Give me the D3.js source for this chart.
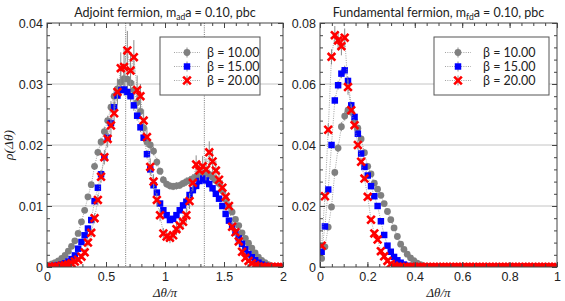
<!DOCTYPE html>
<html>
<head>
<meta charset="utf-8">
<script src="https://cdn.jsdelivr.net/npm/d3@7"></script>
<style>
body{margin:0;background:#fff;}
</style>
</head>
<body>
<div class="content"></div>
<script>
// ---- data ----
// bin centres, left panel (dtheta/pi, 0..2)
var adjX = [0.014,0.042,0.069,0.097,0.125,0.153,0.181,0.208,0.236,0.264,
  0.292,0.319,0.347,0.375,0.403,0.431,0.458,0.486,0.514,0.542,
  0.569,0.597,0.625,0.653,0.681,0.708,0.736,0.764,0.792,0.819,
  0.847,0.875,0.903,0.931,0.958,0.986,1.014,1.042,1.069,1.097,
  1.125,1.153,1.181,1.208,1.236,1.264,1.292,1.319,1.347,1.375,
  1.403,1.431,1.458,1.486,1.514,1.542,1.569,1.597,1.625,1.653,
  1.681,1.708,1.736,1.764,1.792,1.819,1.847,1.875,1.903,1.931,
  1.958,1.986];
var adjB10 = [0.0003,0.0005,0.0007,0.0010,0.0014,0.0019,0.0026,0.0034,0.0043,0.0055,
  0.0074,0.0093,0.0115,0.0135,0.0165,0.0188,0.0205,0.0222,0.0240,0.0262,
  0.0280,0.0292,0.0303,0.0309,0.0308,0.0302,0.0290,0.0270,0.0255,0.0228,
  0.0205,0.0200,0.0190,0.0172,0.0157,0.0143,0.0136,0.0133,0.0132,0.0133,
  0.0134,0.0137,0.0140,0.0142,0.0145,0.0148,0.0150,0.0153,0.0155,0.0152,
  0.0147,0.0142,0.0137,0.0125,0.0111,0.0100,0.0090,0.0078,0.0068,0.0056,
  0.0047,0.0039,0.0031,0.0023,0.0016,0.0011,0.0007,0.0004,0.0002,0.0001,
  0.0001,0.0000];
var adjB15 = [0.0001,0.0001,0.0002,0.0003,0.0004,0.0006,0.0009,0.0013,0.0019,0.0030,
  0.0041,0.0052,0.0063,0.0077,0.0108,0.0130,0.0152,0.0180,0.0212,0.0236,
  0.0262,0.0281,0.0290,0.0291,0.0287,0.0280,0.0265,0.0248,0.0229,0.0212,
  0.0185,0.0160,0.0134,0.0122,0.0104,0.0093,0.0085,0.0077,0.0079,0.0085,
  0.0093,0.0101,0.0107,0.0118,0.0126,0.0133,0.0141,0.0145,0.0142,0.0136,
  0.0129,0.0120,0.0112,0.0100,0.0087,0.0076,0.0066,0.0057,0.0047,0.0038,
  0.0029,0.0021,0.0016,0.0011,0.0007,0.0004,0.0002,0.0001,0.0001,0.0000,
  0.0000,0.0000];
var adjB20 = [0.0000,0.0000,0.0001,0.0001,0.0002,0.0003,0.0004,0.0006,0.0009,0.0012,
  0.0017,0.0024,0.0040,0.0056,0.0080,0.0110,0.0148,0.0180,0.0210,0.0232,
  0.0252,0.0287,0.0326,0.0328,0.0355,0.0322,0.0344,0.0290,0.0280,0.0240,
  0.0213,0.0164,0.0140,0.0110,0.0085,0.0055,0.0050,0.0048,0.0052,0.0062,
  0.0068,0.0074,0.0085,0.0108,0.0138,0.0168,0.0158,0.0165,0.0160,0.0188,
  0.0173,0.0158,0.0143,0.0130,0.0115,0.0100,0.0066,0.0057,0.0042,0.0025,
  0.0015,0.0010,0.0006,0.0003,0.0001,0.0000,0.0000,0.0000,0.0000,0.0000,
  0.0000,0.0000];
var adjErr10 = [0.0001,0.0001,0.0001,0.0001,0.0002,0.0002,0.0002,0.0003,0.0003,0.0003,
  0.0004,0.0004,0.0005,0.0005,0.0006,0.0006,0.0007,0.0008,0.0008,0.0010,
  0.0012,0.0015,0.0018,0.0022,0.0022,0.0018,0.0015,0.0012,0.0010,0.0009,
  0.0008,0.0008,0.0007,0.0007,0.0006,0.0006,0.0006,0.0006,0.0006,0.0006,
  0.0006,0.0006,0.0007,0.0007,0.0007,0.0008,0.0008,0.0009,0.0009,0.0008,
  0.0008,0.0007,0.0006,0.0006,0.0005,0.0005,0.0004,0.0004,0.0003,0.0003,
  0.0003,0.0002,0.0002,0.0002,0.0001,0.0001];
var adjErr15 = [0.0001,0.0001,0.0001,0.0001,0.0001,0.0002,0.0002,0.0002,0.0003,0.0003,
  0.0004,0.0004,0.0005,0.0005,0.0006,0.0006,0.0007,0.0007,0.0008,0.0008,
  0.0009,0.0010,0.0010,0.0010,0.0010,0.0009,0.0009,0.0008,0.0008,0.0007,
  0.0007,0.0006,0.0006,0.0005,0.0005,0.0005,0.0005,0.0005,0.0005,0.0005,
  0.0005,0.0006,0.0006,0.0006,0.0006,0.0007,0.0007,0.0007,0.0007,0.0006,
  0.0006,0.0005,0.0005,0.0004,0.0004,0.0003,0.0003,0.0003,0.0002,0.0002,
  0.0002,0.0001];
var adjErr20 = [0.0000,0.0000,0.0001,0.0001,0.0001,0.0002,0.0002,0.0002,0.0003,0.0003,
  0.0004,0.0005,0.0006,0.0007,0.0008,0.0009,0.0010,0.0012,0.0014,0.0016,
  0.0018,0.0022,0.0026,0.0030,0.0032,0.0030,0.0028,0.0024,0.0020,0.0018,
  0.0016,0.0014,0.0012,0.0011,0.0010,0.0009,0.0009,0.0009,0.0009,0.0010,
  0.0010,0.0011,0.0012,0.0013,0.0014,0.0015,0.0016,0.0017,0.0018,0.0018,
  0.0017,0.0016,0.0014,0.0012,0.0011,0.0010,0.0008,0.0007,0.0005,0.0004,
  0.0003,0.0002,0.0002,0.0001,0.0001];

// bin centres, right panel (dtheta/pi, 0..1)
var fundX = [0.0069,0.0208,0.0347,0.0486,0.0625,0.0764,0.0903,0.1042,0.1181,0.1319,
  0.1458,0.1597,0.1736,0.1875,0.2014,0.2153,0.2292,0.2431,0.2569,0.2708,
  0.2847,0.2986,0.3125,0.3264,0.3403,0.3542,0.3681,0.3819,0.3958,0.4097,
  0.4236,0.4375,0.4514,0.4653,0.4792,0.4931,0.5069,0.5208,0.5347,0.5486,
  0.5625,0.5764,0.5903,0.6042,0.6181,0.6319,0.6458,0.6597,0.6736,0.6875,
  0.7014,0.7153,0.7292,0.7431,0.7569,0.7708,0.7847,0.7986,0.8125,0.8264,
  0.8403,0.8542,0.8681,0.8819,0.8958,0.9097,0.9236,0.9375,0.9514,0.9653,
  0.9792,0.9931];
var fundB10 = [0.0028,0.0066,0.0131,0.0197,0.0310,0.0390,0.0460,0.0495,0.0514,0.0508,
  0.0478,0.0455,0.0420,0.0375,0.0330,0.0305,0.0275,0.0255,0.0235,0.0208,
  0.0182,0.0155,0.0128,0.0100,0.0075,0.0058,0.0042,0.0030,0.0021,0.0013,
  0.0008,0.0004,0.0002,0.0001,0,0,0,0,0,0,
  0,0,0,0,0,0,0,0,0,0,
  0,0,0,0,0,0,0,0,0,0,
  0,0,0,0,0,0,0,0,0,0,
  0,0];
var fundB15 = [0.0050,0.0133,0.0254,0.0400,0.0546,0.0596,0.0634,0.0645,0.0610,0.0530,
  0.0492,0.0437,0.0372,0.0328,0.0300,0.0265,0.0232,0.0200,0.0150,0.0105,
  0.0070,0.0050,0.0033,0.0022,0.0014,0.0008,0.0004,0.0002,0.0001,0,
  0,0,0,0,0,0,0,0,0,0,
  0,0,0,0,0,0,0,0,0,0,
  0,0,0,0,0,0,0,0,0,0,
  0,0,0,0,0,0,0,0,0,0,
  0,0];
var fundB20 = [0.0070,0.0232,0.0450,0.0689,0.0760,0.0743,0.0724,0.0752,0.0590,0.0514,
  0.0465,0.0400,0.0345,0.0290,0.0230,0.0155,0.0110,0.0090,0.0052,0.0035,
  0.0020,0.0010,0.0004,0.0001,0,0,0,0,0,0,
  0,0,0,0,0,0,0,0,0,0,
  0,0,0,0,0,0,0,0,0,0,
  0,0,0,0,0,0,0,0,0,0,
  0,0,0,0,0,0,0,0,0,0,
  0,0];
var fundErr10 = [0.0003,0.0005,0.0008,0.0010,0.0012,0.0014,0.0015,0.0015,0.0015,0.0014,
  0.0013,0.0012,0.0011,0.0010,0.0009,0.0008,0.0008,0.0007,0.0006,0.0006,
  0.0005,0.0005,0.0004,0.0004,0.0003,0.0003,0.0002,0.0002,0.0001,0.0001];
var fundErr15 = [0.0005,0.0008,0.0010,0.0012,0.0013,0.0014,0.0015,0.0015,0.0014,0.0012,
  0.0010,0.0009,0.0008,0.0007,0.0006,0.0005,0.0004,0.0003,0.0003,0.0002,
  0.0002,0.0001];
var fundErr20 = [0.0008,0.0015,0.0020,0.0025,0.0030,0.0030,0.0030,0.0030,0.0025,0.0020,
  0.0018,0.0015,0.0012,0.0010,0.0009,0.0008,0.0006,0.0005,0.0004,0.0003,
  0.0002,0.0001];

var betaLabels = ["\u03b2 = 10.00", "\u03b2 = 15.00", "\u03b2 = 20.00"];
var adjXTicks = [0, 0.5, 1, 1.5, 2];
var adjYTicks = [0, 0.01, 0.02, 0.03, 0.04];
var adjGuides = [0.6667, 1.3333];
var fundXTicks = [0, 0.2, 0.4, 0.6, 0.8, 1];
var fundYTicks = [0, 0.02, 0.04, 0.06, 0.08];

// ---- drawing ----
var width = 565, height = 301;
var svg = d3.select(".content").append("svg").attr("width", width).attr("height", height);
var defs = svg.append("defs");

var serif = "'Liberation Serif', 'DejaVu Serif', serif";
var sans = "Lato, 'Open Sans', sans-serif";
var markColor = ["#808080", "#0000ff", "#ff0000"];

function drawMark(sel, k) {
  if (k == 0) {
    sel.append("path").attr("d", d3.symbol().type(d3.symbolCircle).size(36)()).attr("fill", markColor[0]);
  } else if (k == 1) {
    sel.append("path").attr("d", d3.symbol().type(d3.symbolSquare).size(42)()).attr("fill", markColor[1]);
  } else {
    sel.append("path").attr("d", d3.symbol().type(d3.symbolX).size(40)()).attr("stroke", markColor[2]).attr("stroke-width", 2.6).attr("fill", "none");
    sel.append("path").attr("d", d3.symbol().type(d3.symbolSquare).size(10)()).attr("fill", markColor[2]);
  }
}

function panel(cfg) {
  var x = d3.scaleLinear().domain(cfg.xDomain).range([cfg.left, cfg.right]);
  var y = d3.scaleLinear().domain(cfg.yDomain).range([cfg.bottom, cfg.top]);
  var g = svg.append("g");

  defs.append("clipPath").attr("id", cfg.id).append("rect")
    .attr("x", cfg.left).attr("y", cfg.top)
    .attr("width", cfg.right - cfg.left).attr("height", cfg.bottom - cfg.top);

  // grid lines
  g.append("g").selectAll("line").data(cfg.yTicks.slice(1, -1)).join("line")
    .attr("x1", cfg.left).attr("x2", cfg.right)
    .attr("y1", function(d){ return y(d); }).attr("y2", function(d){ return y(d); })
    .attr("stroke", "#c4c4c4").attr("stroke-width", 1);
  g.append("g").selectAll("line").data(cfg.guides || []).join("line")
    .attr("x1", function(d){ return x(d); }).attr("x2", function(d){ return x(d); })
    .attr("y1", cfg.top).attr("y2", cfg.bottom)
    .attr("stroke", "#555").attr("stroke-width", 0.8).attr("stroke-dasharray", "1,1.2");

  // series
  var plot = g.append("g").attr("clip-path", "url(#" + cfg.id + ")");
  var line = d3.line().x(function(d){ return x(d[0]); }).y(function(d){ return y(d[1]); });
  cfg.series.forEach(function(s, k) {
    var pts = s.values.map(function(v, i){ return [cfg.xs[i], v, s.err[i] || 0]; });
    plot.append("path").datum(pts).attr("d", line)
      .attr("fill", "none").attr("stroke", "#8c8c8c").attr("stroke-width", 0.8)
      .attr("stroke-dasharray", "1,1.3");
    plot.append("g").selectAll("line").data(pts.filter(function(d){ return d[2] > 0; })).join("line")
      .attr("x1", function(d){ return x(d[0]); }).attr("x2", function(d){ return x(d[0]); })
      .attr("y1", function(d){ return y(d[1] - d[2]); }).attr("y2", function(d){ return y(d[1] + d[2]); })
      .attr("stroke", "#8c8c8c").attr("stroke-width", 1);
    plot.append("g").selectAll("g").data(pts).join("g")
      .attr("transform", function(d){ return "translate(" + x(d[0]) + "," + y(d[1]) + ")"; })
      .each(function(){ drawMark(d3.select(this), k); });
  });

  // axes (ticks inside, on all four sides)
  var fmtY = function(d){ return d == 0 ? "0" : d3.format(".2f")(d); };
  var fmtX = function(d){ return d == 0 ? "0" : d3.format("~g")(d); };
  var axG = g.append("g").attr("font-family", serif);
  axG.append("g").attr("transform", "translate(0," + cfg.bottom + ")")
    .call(d3.axisBottom(x).tickValues(cfg.xMinor).tickSize(-3).tickFormat(""));
  axG.append("g").attr("transform", "translate(0," + cfg.bottom + ")")
    .call(d3.axisBottom(x).tickValues(cfg.xTicks).tickSize(-5).tickPadding(5).tickFormat(fmtX));
  axG.append("g").attr("transform", "translate(0," + cfg.top + ")")
    .call(d3.axisTop(x).tickValues(cfg.xMinor).tickSize(-3).tickFormat(""));
  axG.append("g").attr("transform", "translate(0," + cfg.top + ")")
    .call(d3.axisTop(x).tickValues(cfg.xTicks).tickSize(-5).tickFormat(""));
  axG.append("g").attr("transform", "translate(" + cfg.left + ",0)")
    .call(d3.axisLeft(y).tickValues(cfg.yMinor).tickSize(-3).tickFormat(""));
  axG.append("g").attr("transform", "translate(" + cfg.left + ",0)")
    .call(d3.axisLeft(y).tickValues(cfg.yTicks).tickSize(-5).tickPadding(4).tickFormat(fmtY));
  axG.append("g").attr("transform", "translate(" + cfg.right + ",0)")
    .call(d3.axisRight(y).tickValues(cfg.yMinor).tickSize(-3).tickFormat(""));
  axG.append("g").attr("transform", "translate(" + cfg.right + ",0)")
    .call(d3.axisRight(y).tickValues(cfg.yTicks).tickSize(-5).tickFormat(""));
  axG.selectAll(".domain").remove();
  axG.selectAll(".tick line").attr("stroke", "#444");
  axG.selectAll(".tick text").attr("font-size", 12.5).attr("fill", "#222");

  g.append("rect").attr("x", cfg.left).attr("y", cfg.top)
    .attr("width", cfg.right - cfg.left).attr("height", cfg.bottom - cfg.top)
    .attr("fill", "none").attr("stroke", "#444").attr("stroke-width", 1);

  // title
  var t = g.append("text").attr("x", (cfg.left + cfg.right) / 2).attr("y", 17)
    .attr("text-anchor", "middle").attr("font-family", sans).attr("font-size", 12.5).attr("fill", "#222");
  t.append("tspan").text(cfg.title[0]);
  t.append("tspan").attr("font-size", 8.5).attr("dy", 2.5).text(cfg.title[1]);
  t.append("tspan").attr("dy", -2.5).text(cfg.title[2]);

  // x label
  g.append("text").attr("x", (cfg.left + cfg.right) / 2).attr("y", 297)
    .attr("text-anchor", "middle").attr("font-family", serif).attr("font-style", "italic")
    .attr("font-size", 13).attr("fill", "#222").text("\u0394\u03b8/\u03c0");

  // legend
  var L = cfg.legend;
  var lg = g.append("g");
  lg.append("rect").attr("x", L.x).attr("y", L.y).attr("width", L.w).attr("height", L.h)
    .attr("fill", "#fff").attr("stroke", "#555").attr("stroke-width", 1);
  betaLabels.forEach(function(lab, k) {
    var ry = L.y + 15.5 + k * 14;
    var mx = L.x + L.mx;
    lg.append("line").attr("x1", mx - 13).attr("x2", mx + 13).attr("y1", ry).attr("y2", ry)
      .attr("stroke", "#8c8c8c").attr("stroke-width", 0.8).attr("stroke-dasharray", "1,1.3");
    lg.append("line").attr("x1", mx).attr("x2", mx).attr("y1", ry - 5).attr("y2", ry + 5)
      .attr("stroke", "#8c8c8c").attr("stroke-width", 1);
    drawMark(lg.append("g").attr("transform", "translate(" + mx + "," + ry + ")"), k);
    lg.append("text").attr("x", L.x + L.tx).attr("y", ry + 4.5)
      .attr("font-family", sans).attr("font-size", 12.5).attr("fill", "#222").text(lab);
  });
}

panel({
  id: "clipAdj", left: 47, right: 283, top: 23, bottom: 267,
  xDomain: [0, 2], yDomain: [0, 0.04],
  xTicks: adjXTicks, xMinor: d3.range(0, 2.001, 0.1),
  yTicks: adjYTicks, yMinor: d3.range(0, 0.0401, 0.002),
  guides: adjGuides,
  xs: adjX,
  series: [
    {values: adjB10, err: adjErr10},
    {values: adjB15, err: adjErr15},
    {values: adjB20, err: adjErr20}
  ],
  title: ["Adjoint fermion, m", "ad", "a = 0.10, pbc"],
  legend: {x: 160, y: 37, w: 100, h: 58, mx: 27, tx: 47}
});

panel({
  id: "clipFund", left: 320, right: 557, top: 23, bottom: 267,
  xDomain: [0, 1], yDomain: [0, 0.08],
  xTicks: fundXTicks, xMinor: d3.range(0, 1.001, 0.05),
  yTicks: fundYTicks, yMinor: d3.range(0, 0.0801, 0.004),
  xs: fundX,
  series: [
    {values: fundB10, err: fundErr10},
    {values: fundB15, err: fundErr15},
    {values: fundB20, err: fundErr20}
  ],
  title: ["Fundamental fermion, m", "fd", "a = 0.10, pbc"],
  legend: {x: 434, y: 37, w: 115, h: 58, mx: 24, tx: 49}
});

// y label
svg.append("text").attr("transform", "translate(13,145) rotate(-90)")
  .attr("text-anchor", "middle").attr("font-family", serif).attr("font-style", "italic")
  .attr("font-size", 13.5).attr("fill", "#222").text("\u03c1(\u0394\u03b8)");
</script>
</body>
</html>
